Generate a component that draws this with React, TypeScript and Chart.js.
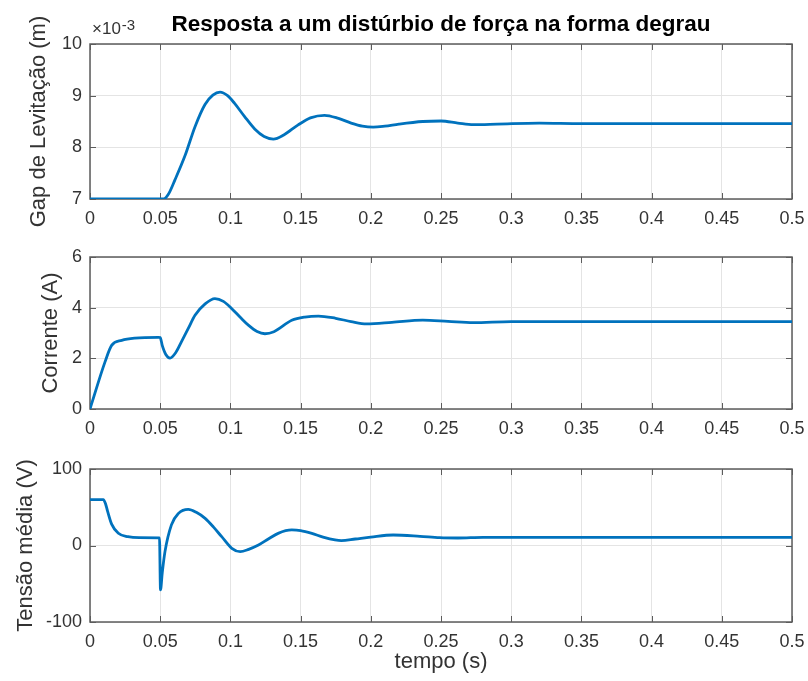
import React, { useEffect, useRef } from "react";
import { Chart, registerables } from "chart.js";

Chart.register(...registerables);

// ---------- data ----------
const chartTitle = "Resposta a um distúrbio de força na forma degrau";
const gapTitle = "Gap de Levitação (m)";
const currentTitle = "Corrente (A)";
const voltageTitle = "Tensão média (V)";
const timeTitle = "tempo (s)";

const timeTicks = [0, 0.05, 0.1, 0.15, 0.2, 0.25, 0.3, 0.35, 0.4, 0.45, 0.5];
const gapTicks = [7e-3, 8e-3, 9e-3, 10e-3];
const currentTicks = [0, 2, 4, 6];
const voltageTicks = [-100, 0, 100];

const timeGap = [
  0, 0.05, 0.0525, 0.0558, 0.0605, 0.0677, 0.0748, 0.0819, 0.0875, 0.0926, 0.098,
  0.103, 0.11, 0.1175, 0.124, 0.1306, 0.138, 0.148, 0.157, 0.167, 0.177, 0.186,
  0.194, 0.2017, 0.21, 0.22, 0.237, 0.25, 0.262, 0.273, 0.29, 0.32, 0.35, 0.4,
  0.45, 0.5,
];
const gapValues = [
  7.0e-3, 7.0e-3, 7.0e-3, 7.09e-3, 7.37e-3, 7.84e-3, 8.4e-3, 8.83e-3, 9.01e-3,
  9.07e-3, 9.0e-3, 8.85e-3, 8.6e-3, 8.35e-3, 8.21e-3, 8.16e-3, 8.24e-3, 8.43e-3,
  8.57e-3, 8.62e-3, 8.56e-3, 8.47e-3, 8.41e-3, 8.39e-3, 8.41e-3, 8.45e-3, 8.5e-3,
  8.51e-3, 8.47e-3, 8.44e-3, 8.45e-3, 8.47e-3, 8.46e-3, 8.46e-3, 8.46e-3, 8.46e-3,
];

const timeCurrent = [
  0, 0.0107, 0.0154, 0.0226, 0.032, 0.0487, 0.05, 0.0515, 0.054, 0.057, 0.061,
  0.065, 0.07, 0.0748, 0.082, 0.089, 0.095, 0.101, 0.107, 0.113, 0.119, 0.1246,
  0.131, 0.1437, 0.153, 0.1627, 0.175, 0.186, 0.197, 0.215, 0.237, 0.255, 0.273,
  0.3, 0.35, 0.4, 0.45, 0.5,
];
const currentValues = [
  0, 1.86, 2.51, 2.71, 2.8, 2.83, 2.82, 2.5, 2.15, 2.01, 2.22, 2.64, 3.18, 3.7,
  4.15, 4.36, 4.25, 3.96, 3.62, 3.3, 3.06, 2.97, 3.05, 3.5, 3.63, 3.67, 3.58,
  3.45, 3.36, 3.42, 3.51, 3.46, 3.41, 3.45, 3.45, 3.45, 3.45, 3.45,
];

const timeVoltage = [
  0, 0.0095, 0.011, 0.0125, 0.0154, 0.0202, 0.027, 0.035, 0.0495, 0.0502, 0.0515,
  0.0534, 0.058, 0.063, 0.07, 0.076, 0.082, 0.088, 0.0938, 0.101, 0.107, 0.113,
  0.12, 0.127, 0.134, 0.1437, 0.15, 0.158, 0.166, 0.1745, 0.179, 0.189, 0.2,
  0.216, 0.235, 0.249, 0.262, 0.28, 0.32, 0.4, 0.5,
];
const voltageValues = [
  60, 60, 55, 45, 28, 16, 11.5, 10.2, 10, -58, -35, -8, 27, 42, 47.3, 43, 35.5,
  24, 11.5, -3.7, -8.1, -5, 0.6, 8.5, 15.9, 20.3, 19.5, 15.9, 11, 7.2, 6.3, 8.5,
  11, 13.7, 12, 10.2, 9.8, 10.7, 10.7, 10.7, 10.7,
];

// ---------- styling ----------
const FONT = '"Liberation Sans", Arial, Helvetica, sans-serif';
const TEXT = "#333333";
const GRID = "#e4e4e4";
const AXIS = "#5c5c5c";
const LINE = "#0072BD";

const framePlugin = {
  id: "matlabFrame",
  beforeDatasetsDraw(chart: any) {
    const { ctx, chartArea, scales } = chart;
    const { left, right, top, bottom } = chartArea;
    ctx.save();
    ctx.strokeStyle = AXIS;
    ctx.lineWidth = 1;
    ctx.beginPath();
    const tl = 6;
    for (const t of scales.x.ticks) {
      const px = Math.round(scales.x.getPixelForValue(t.value)) + 0.5;
      ctx.moveTo(px, bottom);
      ctx.lineTo(px, bottom - tl);
      ctx.moveTo(px, top);
      ctx.lineTo(px, top + tl);
    }
    for (const t of scales.y.ticks) {
      const py = Math.round(scales.y.getPixelForValue(t.value)) + 0.5;
      ctx.moveTo(left, py);
      ctx.lineTo(left + tl, py);
      ctx.moveTo(right, py);
      ctx.lineTo(right - tl, py);
    }
    ctx.stroke();
    ctx.lineWidth = 1.5;
    ctx.strokeRect(left, top, right - left, bottom - top);
    ctx.restore();
  },
};

const headerPlugin = {
  id: "header",
  afterDraw(chart: any) {
    const { ctx, chartArea } = chart;
    ctx.save();
    ctx.fillStyle = "#000";
    ctx.font = `bold 22.5px ${FONT}`;
    ctx.textAlign = "center";
    ctx.textBaseline = "alphabetic";
    ctx.fillText(chartTitle, (chartArea.left + chartArea.right) / 2, 31);
    ctx.fillStyle = TEXT;
    ctx.textAlign = "left";
    ctx.font = `17px ${FONT}`;
    ctx.fillText("×10", 92, 34);
    const w = ctx.measureText("×10").width;
    ctx.font = `15px ${FONT}`;
    ctx.fillText("-3", 92 + w + 1, 30);
    ctx.restore();
  },
};

type Opts = {
  xs: number[];
  ys: number[];
  yMin: number;
  yMax: number;
  yTicks: number[];
  yFmt: (v: number) => string;
  yTitle: string;
  yTitlePad: number;
  padTop: number;
  padBottom: number;
  axisHeight: number;
  xTitle?: string;
  extra?: any[];
};

function buildChart(canvas: HTMLCanvasElement, o: Opts) {
  return new Chart(canvas, {
    type: "line",
    data: {
      datasets: [
        {
          data: o.xs.map((x, i) => ({ x, y: o.ys[i] })),
          borderColor: LINE,
          borderWidth: 2.8,
          pointRadius: 0,
          cubicInterpolationMode: "monotone",
          fill: false,
        },
      ],
    },
    options: {
      animation: false,
      responsive: false,
      maintainAspectRatio: false,
      events: [],
      layout: { padding: { top: o.padTop, bottom: o.padBottom, left: 0, right: 16 } },
      plugins: {
        legend: { display: false },
        tooltip: { enabled: false },
        title: { display: false },
      },
      scales: {
        x: {
          type: "linear",
          min: 0,
          max: 0.5,
          afterBuildTicks: (s: any) => {
            s.ticks = timeTicks.map((v) => ({ value: v }));
          },
          afterFit: (s: any) => {
            s.height = o.axisHeight;
            s.paddingLeft = 0;
            s.paddingRight = 0;
          },
          grid: { color: GRID, drawTicks: false, lineWidth: 1 },
          border: { display: false },
          ticks: {
            padding: 9,
            color: TEXT,
            font: { family: FONT, size: 18 },
            maxRotation: 0,
            autoSkip: false,
            callback: (v: any) => String(+Number(v).toFixed(2)),
          },
          title: o.xTitle
            ? {
                display: true,
                text: o.xTitle,
                color: TEXT,
                font: { family: FONT, size: 22 },
                padding: { top: 0, bottom: 6 },
              }
            : { display: false },
        },
        y: {
          type: "linear",
          min: o.yMin,
          max: o.yMax,
          afterBuildTicks: (s: any) => {
            s.ticks = o.yTicks.map((v) => ({ value: v }));
          },
          afterFit: (s: any) => {
            s.width = 90;
            s.paddingTop = 0;
            s.paddingBottom = 0;
          },
          grid: { color: GRID, drawTicks: false, lineWidth: 1 },
          border: { display: false },
          ticks: {
            padding: 8,
            color: TEXT,
            font: { family: FONT, size: 18 },
            autoSkip: false,
            callback: (v: any) => o.yFmt(Number(v)),
          },
          title: {
            display: true,
            text: o.yTitle,
            color: TEXT,
            font: { family: FONT, size: 22 },
            padding: { top: o.yTitlePad, bottom: 0 },
          },
        },
      },
    } as any,
    plugins: [framePlugin, ...(o.extra || [])],
  });
}

export default function App() {
  const r1 = useRef<HTMLCanvasElement>(null);
  const r2 = useRef<HTMLCanvasElement>(null);
  const r3 = useRef<HTMLCanvasElement>(null);

  useEffect(() => {
    const c1 = buildChart(r1.current!, {
      xs: timeGap,
      ys: gapValues,
      yMin: 7e-3,
      yMax: 10e-3,
      yTicks: gapTicks,
      yFmt: (v) => String(Math.round(v * 1000)),
      yTitle: gapTitle,
      yTitlePad: 26,
      padTop: 44,
      padBottom: 1,
      axisHeight: 30,
      extra: [headerPlugin],
    });
    const c2 = buildChart(r2.current!, {
      xs: timeCurrent,
      ys: currentValues,
      yMin: 0,
      yMax: 6,
      yTicks: currentTicks,
      yFmt: (v) => String(v),
      yTitle: currentTitle,
      yTitlePad: 38,
      padTop: 27,
      padBottom: 3,
      axisHeight: 30,
    });
    const c3 = buildChart(r3.current!, {
      xs: timeVoltage,
      ys: voltageValues,
      yMin: -100,
      yMax: 100,
      yTicks: voltageTicks,
      yFmt: (v) => String(v),
      yTitle: voltageTitle,
      yTitlePad: 13,
      padTop: 27,
      padBottom: 0,
      axisHeight: 59,
      xTitle: timeTitle,
    });
    return () => {
      c1.destroy();
      c2.destroy();
      c3.destroy();
    };
  }, []);

  return (
    <div
      style={{
        position: "fixed",
        left: 0,
        top: 0,
        width: 808,
        height: 681,
        background: "#ffffff",
        overflow: "hidden",
      }}
    >
      <canvas ref={r1} width={808} height={230} style={{ position: "absolute", left: 0, top: 0 }} />
      <canvas ref={r2} width={808} height={212} style={{ position: "absolute", left: 0, top: 230 }} />
      <canvas ref={r3} width={808} height={239} style={{ position: "absolute", left: 0, top: 442 }} />
    </div>
  );
}
